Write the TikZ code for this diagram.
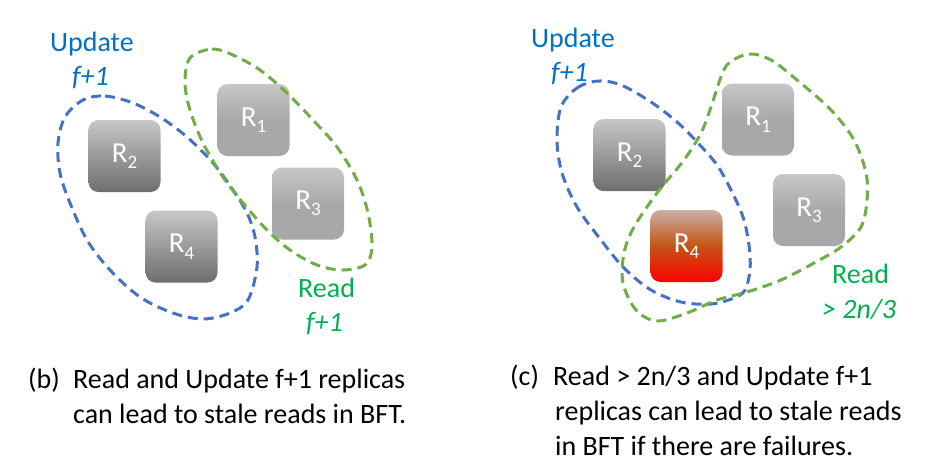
\documentclass[tikz,border=0pt]{standalone}
\usepackage{fontspec}
\setmainfont{Carlito}
\definecolor{txtblue}{HTML}{0070C0}
\definecolor{txtgreen}{HTML}{00B050}
\definecolor{lineblue}{HTML}{4472C4}
\definecolor{linegreen}{HTML}{70AD47}
\pgfdeclareverticalshading{darkgrad}{100bp}{color(0bp)=(black!57); color(25bp)=(black!57); color(75bp)=(black!22); color(100bp)=(black!22)}
\pgfdeclareverticalshading{lightgrad}{100bp}{color(0bp)=(black!34); color(25bp)=(black!34); color(50bp)=(black!34); color(75bp)=(black!22); color(100bp)=(black!22)}
\definecolor{redbot}{RGB}{255,0,0}
\definecolor{redmid}{RGB}{196,84,20}
\definecolor{redtop}{RGB}{200,176,165}
\pgfdeclareverticalshading{redgrad}{100bp}{color(0bp)=(redbot); color(25bp)=(redbot); color(50bp)=(redmid); color(75bp)=(redtop); color(100bp)=(redtop)}
\newcommand\rsub[2]{#1\raisebox{-0.22em}{\fontsize{19}{19}\selectfont #2}}
\tikzset{
  rbox/.style={minimum width=72pt, minimum height=72pt, rounded corners=10pt, inner sep=0pt, text=white, font=\fontsize{29}{29}\selectfont},
  darkbox/.style={rbox, shading=darkgrad},
  lightbox/.style={rbox, shading=lightgrad},
  redbox/.style={rbox, shading=redgrad},
  lbl/.style={anchor=base west, inner sep=0pt, font=\fontsize{28}{28}\selectfont},
  captxt/.style={anchor=base west, inner sep=0pt, font=\fontsize{28}{28}\selectfont, text=black},
  bset/.style={draw=lineblue, line width=3pt, dash pattern=on 10pt off 6pt},
  gset/.style={draw=linegreen, line width=3pt, dash pattern=on 10pt off 6pt}
}
\begin{document}
\begin{tikzpicture}[x=1pt,y=-1pt]
\useasboundingbox (0,0) rectangle (928,467);
% left panel boxes
\node[lightbox] (l1) at (253.5,120) {\rsub{R}{1}};
\node[darkbox] (l2) at (124.5,156) {\rsub{R}{2}};
\node[lightbox] (l3) at (308,203.5) {\rsub{R}{3}};
\node[darkbox] (l4) at (181.5,246.5) {\rsub{R}{4}};
% left sets
\draw[bset] plot[smooth cycle, tension=0.55] coordinates {(83,100) (105,96) (133,103) (160,117) (187,137) (213,163) (233,190) (247,213) (255,237) (257,267) (248,300) (230,313) (203,319) (173,313) (140,297) (110,270) (87,240) (70,203) (60,173) (58,143) (65,117)};
\draw[gset] plot[smooth cycle, tension=0.55] coordinates {(190,58) (212,49) (233,55) (260,70) (287,93) (313,120) (337,147) (357,180) (368,213) (372,247) (365,265) (342,270) (317,265) (290,250) (267,230) (243,203) (223,177) (203,143) (190,110) (185,83)};
% left labels
\node[lbl, text=txtblue] (lu) at (50,51) {Update};
\node[lbl, text=txtblue] (luf) at (72,85) {\itshape f+1};
\node[lbl, text=txtgreen] (lr) at (298,297) {Read};
\node[lbl, text=txtgreen] (lrf) at (306,331) {\itshape f+1};
% right panel boxes
\node[lightbox] (r1) at (758,119.5) {\rsub{R}{1}};
\node[darkbox] (r2) at (629.5,155) {\rsub{R}{2}};
\node[lightbox] (r3) at (809,210) {\rsub{R}{3}};
\node[redbox] (r4) at (686.5,246) {\rsub{R}{4}};
% right sets
\draw[bset] plot[smooth cycle, tension=0.55] coordinates {(561,107) (577,88) (598,81) (621,85) (651,102) (677,122) (698,143) (717,165) (731,190) (743,217) (749,245) (750,270) (745,290) (734,298) (711,304) (681,302) (651,290) (624,268) (601,240) (577,207) (562,173) (557,140)};
\draw[gset] plot[smooth cycle, tension=0.55] coordinates {(729,63) (749,54) (771,60) (797,80) (831,110) (854,140) (866,173) (867,200) (861,227) (841,247) (814,263) (781,280) (747,292) (717,300) (687,313) (657,321) (636,310) (623,283) (624,253) (634,227) (657,193) (684,160) (701,133) (711,107) (721,77)};
% right labels
\node[lbl, text=txtblue] (ru) at (531,47) {Update};
\node[lbl, text=txtblue] (ruf) at (551,81) {\itshape f+1};
\node[lbl, text=txtgreen] (rr) at (832,283) {Read};
\node[lbl, text=txtgreen] (rrf) at (822,318) {\itshape > 2n/3};
% captions
\node[captxt] (cb) at (28,388) {(b)};
\node[captxt] (cb1) at (73,388) {Read and Update f+1 replicas};
\node[captxt] (cb2) at (73,423) {can lead to stale reads in BFT.};
\node[captxt] (cc) at (510,385) {(c)};
\node[captxt] (cc1) at (553,385) {Read > 2n/3 and Update f+1};
\node[captxt] (cc2) at (555,420) {replicas can lead to stale reads};
\node[captxt] (cc3) at (555,455) {in BFT if there are failures.};
\end{tikzpicture}
\end{document}
